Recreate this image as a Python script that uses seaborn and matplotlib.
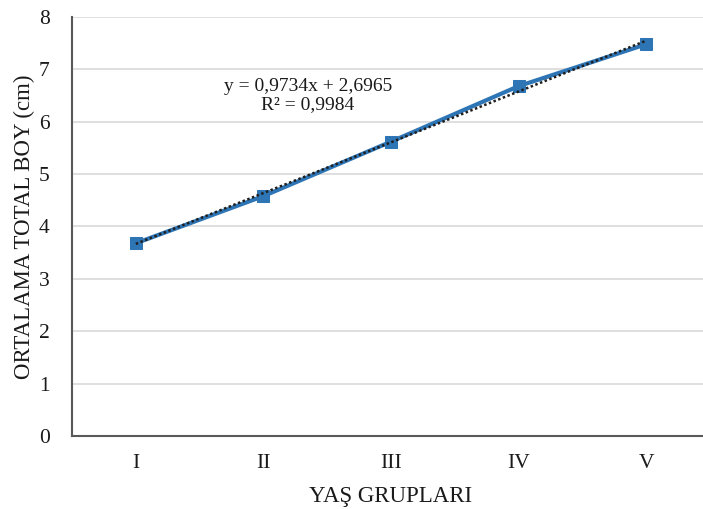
import numpy as np
import pandas as pd
import matplotlib
matplotlib.use("Agg")
import matplotlib.pyplot as plt
import seaborn as sns

# Mean total length by age group
age_groups = ["I", "II", "III", "IV", "V"]
mean_length = [3.68, 4.58, 5.62, 6.68, 7.48]
y_ticks = [0, 1, 2, 3, 4, 5, 6, 7, 8]
equation_text = "y = 0,9734x + 2,6965\nR² = 0,9984"

sns.set_theme(style="white")
plt.rcParams["font.family"] = ["Liberation Serif", "DejaVu Serif"]

df = pd.DataFrame({"grp": np.arange(len(age_groups)), "length": mean_length})

fig = plt.figure(figsize=(7.03, 5.09), dpi=100)
ax = fig.add_axes([72 / 703, 1 - 436 / 509, 1 - 72 / 703 + 0.01, (436 - 17) / 509])

ax.yaxis.grid(True, color="#d9d9d9", linewidth=1.2)
ax.set_axisbelow(True)

sns.lineplot(data=df, x="grp", y="length", ax=ax, color="#2E75B6",
             linewidth=3, marker="s", markersize=8, markeredgecolor="#2E75B6",
             zorder=3)

# Linear trend line
slope, intercept = np.polyfit(df["grp"] + 1, df["length"], 1)
fit = slope * (df["grp"] + 1) + intercept
ax.plot(df["grp"], fit, linestyle=(0, (1, 1)), color="#1f1f1f", linewidth=1.8, zorder=4)

ax.text(1.35, 6.5, equation_text, ha="center", va="center", fontsize=14,
        color="#1a1a1a", linespacing=1.1)

ax.set_xlim(-0.5, 4.5)
ax.set_ylim(0, 8)
ax.set_xticks(range(len(age_groups)))
ax.set_xticklabels(age_groups)
ax.set_yticks(y_ticks)
ax.tick_params(axis="both", labelsize=15.5, colors="#1a1a1a", length=0)
ax.tick_params(axis="x", pad=13)
ax.tick_params(axis="y", pad=16)

for side in ["top", "right"]:
    ax.spines[side].set_visible(False)
for side in ["left", "bottom"]:
    ax.spines[side].set_color("#595959")
    ax.spines[side].set_linewidth(1.5)

ax.set_xlabel("YAŞ GRUPLARI", fontsize=16.5, color="#1a1a1a", labelpad=9)
ax.set_ylabel("ORTALAMA TOTAL BOY (cm)", fontsize=16.5, color="#1a1a1a", labelpad=3)

fig.savefig("out.png", dpi=100)
